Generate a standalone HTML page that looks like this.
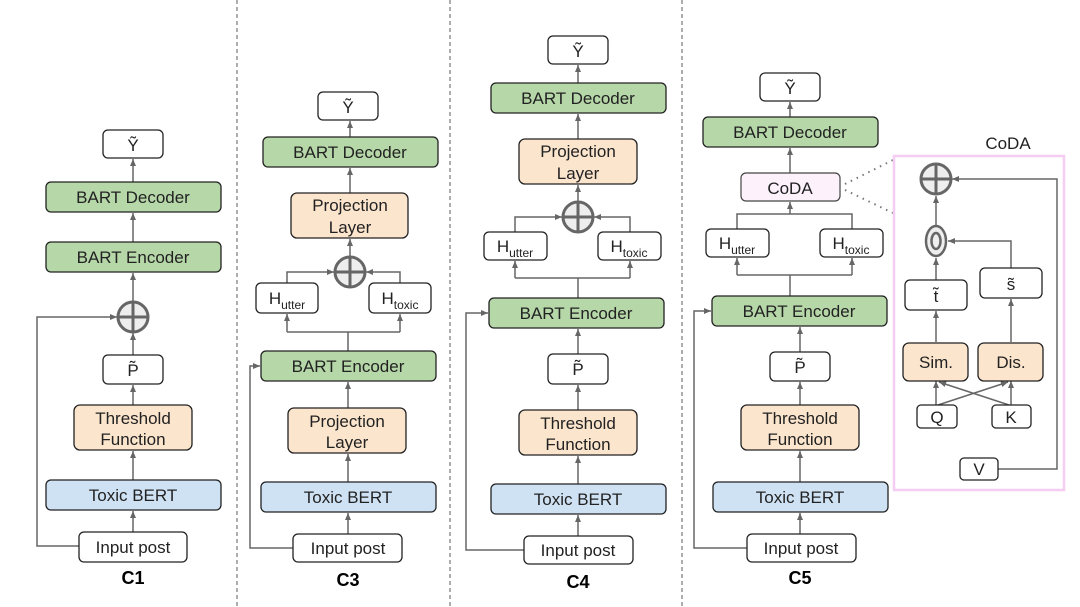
<!DOCTYPE html>
<html><head><meta charset="utf-8"><style>
html,body{margin:0;padding:0;background:#fff;}
svg{display:block;font-family:"Liberation Sans",Arial,sans-serif;}
.b{stroke:#222;stroke-width:1.3;}
.l{stroke:#666;stroke-width:1.5;fill:none;}
text{fill:#222;font-size:17px;text-anchor:middle;}
.s{font-size:12px;}
.c{font-weight:bold;font-size:18px;fill:#000;}
</style></head><body>
<svg width="1080" height="607" viewBox="0 0 1080 607" xmlns="http://www.w3.org/2000/svg">
<defs>
<marker id="a" markerWidth="8" markerHeight="8" refX="7" refY="4" orient="auto" markerUnits="userSpaceOnUse"><path d="M0,1 L7,4 L0,7 z" fill="#666"/></marker>
<g id="plus"><circle r="15" fill="#eee" stroke="#666" stroke-width="3"/><line x1="-15" y1="0" x2="15" y2="0" stroke="#666" stroke-width="3"/><line x1="0" y1="-15" x2="0" y2="15" stroke="#666" stroke-width="3"/></g>
</defs>
<!-- separators -->
<g stroke="#777" stroke-width="1.2" stroke-dasharray="4,3">
<line x1="237" y1="0" x2="237" y2="607"/><line x1="450" y1="0" x2="450" y2="607"/><line x1="682" y1="0" x2="682" y2="607"/>
</g>

<!-- C1 -->
<g>
<line class="l" x1="133" y1="532" x2="133" y2="511" marker-end="url(#a)"/>
<line class="l" x1="133" y1="480" x2="133" y2="451" marker-end="url(#a)"/>
<line class="l" x1="133" y1="405" x2="133" y2="385" marker-end="url(#a)"/>
<line class="l" x1="133" y1="355" x2="133" y2="333" marker-end="url(#a)"/>
<line class="l" x1="133" y1="302" x2="133" y2="273" marker-end="url(#a)"/>
<line class="l" x1="133" y1="242" x2="133" y2="213" marker-end="url(#a)"/>
<line class="l" x1="133" y1="182" x2="133" y2="159" marker-end="url(#a)"/>
<polyline class="l" points="79,546 37,546 37,317 117,317" marker-end="url(#a)"/>
<rect class="b" x="103" y="130" width="60" height="28" rx="5" fill="#fff"/><text x="133" y="151">Ỹ</text>
<rect class="b" x="46" y="182" width="175" height="30" rx="5" fill="#b6d7a8"/><text x="133" y="203">BART Decoder</text>
<rect class="b" x="46" y="242" width="175" height="30" rx="5" fill="#b6d7a8"/><text x="133" y="263">BART Encoder</text>
<use href="#plus" x="133" y="317"/>
<rect class="b" x="103" y="355" width="60" height="29" rx="5" fill="#fff"/><text x="133" y="376">P̃</text>
<rect class="b" x="74" y="405" width="118" height="45" rx="6" fill="#fce5cd"/><text x="133" y="424">Threshold</text><text x="133" y="445">Function</text>
<rect class="b" x="46" y="480" width="175" height="30" rx="5" fill="#cfe2f3"/><text x="133" y="501">Toxic BERT</text>
<rect class="b" x="79" y="532" width="108" height="30" rx="5" fill="#fff"/><text x="133" y="553">Input post</text>
<text class="c" x="133" y="584">C1</text>
</g>

<!-- C3 -->
<g>
<line class="l" x1="348" y1="534" x2="348" y2="513" marker-end="url(#a)"/>
<line class="l" x1="348" y1="482" x2="348" y2="454" marker-end="url(#a)"/>
<line class="l" x1="348" y1="408" x2="348" y2="382" marker-end="url(#a)"/>
<polyline class="l" points="293,548 250,548 250,366 260,366" marker-end="url(#a)"/>
<line class="l" x1="348" y1="351" x2="348" y2="332"/>
<polyline class="l" points="287,332 400,332"/>
<line class="l" x1="287" y1="332" x2="287" y2="314" marker-end="url(#a)"/>
<line class="l" x1="400" y1="332" x2="400" y2="314" marker-end="url(#a)"/>
<polyline class="l" points="287,283 287,272 334,272" marker-end="url(#a)"/>
<polyline class="l" points="400,283 400,272 366,272" marker-end="url(#a)"/>
<line class="l" x1="350" y1="257" x2="350" y2="239" marker-end="url(#a)"/>
<line class="l" x1="350" y1="193" x2="350" y2="168" marker-end="url(#a)"/>
<line class="l" x1="350" y1="137" x2="350" y2="121" marker-end="url(#a)"/>
<rect class="b" x="318" y="92" width="60" height="28" rx="5" fill="#fff"/><text x="348" y="113">Ỹ</text>
<rect class="b" x="263" y="137" width="175" height="30" rx="5" fill="#b6d7a8"/><text x="350" y="158">BART Decoder</text>
<rect class="b" x="291" y="193" width="117" height="45" rx="6" fill="#fce5cd"/><text x="350" y="211">Projection</text><text x="350" y="233">Layer</text>
<use href="#plus" x="350" y="272"/>
<rect class="b" x="256" y="283" width="62" height="30" rx="5" fill="#fff"/><text x="287" y="304">H<tspan class="s" dy="5">utter</tspan></text>
<rect class="b" x="369" y="283" width="62" height="30" rx="5" fill="#fff"/><text x="400" y="304">H<tspan class="s" dy="5">toxic</tspan></text>
<rect class="b" x="261" y="351" width="175" height="30" rx="5" fill="#b6d7a8"/><text x="348" y="372">BART Encoder</text>
<rect class="b" x="288" y="408" width="118" height="45" rx="6" fill="#fce5cd"/><text x="347" y="427">Projection</text><text x="347" y="448">Layer</text>
<rect class="b" x="261" y="482" width="175" height="30" rx="5" fill="#cfe2f3"/><text x="348" y="503">Toxic BERT</text>
<rect class="b" x="293" y="534" width="109" height="28" rx="5" fill="#fff"/><text x="348" y="554">Input post</text>
<text class="c" x="348" y="586">C3</text>
</g>

<!-- C4 -->
<g>
<line class="l" x1="578" y1="536" x2="578" y2="515" marker-end="url(#a)"/>
<line class="l" x1="578" y1="484" x2="578" y2="456" marker-end="url(#a)"/>
<line class="l" x1="578" y1="410" x2="578" y2="385" marker-end="url(#a)"/>
<line class="l" x1="578" y1="354" x2="578" y2="329" marker-end="url(#a)"/>
<polyline class="l" points="524,550 466,550 466,313 488,313" marker-end="url(#a)"/>
<line class="l" x1="578" y1="298" x2="578" y2="278"/>
<polyline class="l" points="515,278 630,278"/>
<line class="l" x1="515" y1="278" x2="515" y2="261" marker-end="url(#a)"/>
<line class="l" x1="630" y1="278" x2="630" y2="261" marker-end="url(#a)"/>
<polyline class="l" points="515,232 515,217 562,217" marker-end="url(#a)"/>
<polyline class="l" points="630,232 630,217 594,217" marker-end="url(#a)"/>
<line class="l" x1="578" y1="202" x2="578" y2="185" marker-end="url(#a)"/>
<line class="l" x1="578" y1="139" x2="578" y2="114" marker-end="url(#a)"/>
<line class="l" x1="578" y1="83" x2="578" y2="65" marker-end="url(#a)"/>
<rect class="b" x="548" y="36" width="60" height="28" rx="5" fill="#fff"/><text x="578" y="57">Ỹ</text>
<rect class="b" x="491" y="83" width="175" height="30" rx="5" fill="#b6d7a8"/><text x="578" y="104">BART Decoder</text>
<rect class="b" x="519" y="139" width="118" height="45" rx="6" fill="#fce5cd"/><text x="578" y="157">Projection</text><text x="578" y="179">Layer</text>
<use href="#plus" x="578" y="217"/>
<rect class="b" x="484" y="232" width="63" height="28" rx="5" fill="#fff"/><text x="515" y="252">H<tspan class="s" dy="5">utter</tspan></text>
<rect class="b" x="598" y="232" width="63" height="28" rx="5" fill="#fff"/><text x="629" y="252">H<tspan class="s" dy="5">toxic</tspan></text>
<rect class="b" x="489" y="298" width="175" height="30" rx="5" fill="#b6d7a8"/><text x="576" y="319">BART Encoder</text>
<rect class="b" x="548" y="354" width="60" height="30" rx="5" fill="#fff"/><text x="578" y="375">P̃</text>
<rect class="b" x="519" y="410" width="118" height="45" rx="6" fill="#fce5cd"/><text x="578" y="429">Threshold</text><text x="578" y="450">Function</text>
<rect class="b" x="491" y="484" width="175" height="30" rx="5" fill="#cfe2f3"/><text x="578" y="505">Toxic BERT</text>
<rect class="b" x="524" y="536" width="109" height="28" rx="5" fill="#fff"/><text x="578" y="556">Input post</text>
<text class="c" x="578" y="588">C4</text>
</g>

<!-- C5 -->
<g>
<line class="l" x1="800" y1="534" x2="800" y2="513" marker-end="url(#a)"/>
<line class="l" x1="800" y1="482" x2="800" y2="451" marker-end="url(#a)"/>
<line class="l" x1="800" y1="405" x2="800" y2="382" marker-end="url(#a)"/>
<line class="l" x1="800" y1="352" x2="800" y2="327" marker-end="url(#a)"/>
<polyline class="l" points="747,548 694,548 694,311 711,311" marker-end="url(#a)"/>
<line class="l" x1="790" y1="296" x2="790" y2="275"/>
<polyline class="l" points="737,275 852,275"/>
<line class="l" x1="737" y1="275" x2="737" y2="258" marker-end="url(#a)"/>
<line class="l" x1="852" y1="275" x2="852" y2="258" marker-end="url(#a)"/>
<polyline class="l" points="737,229 737,214 852,214 852,229"/>
<line class="l" x1="790" y1="214" x2="790" y2="202" marker-end="url(#a)"/>
<line class="l" x1="790" y1="173" x2="790" y2="148" marker-end="url(#a)"/>
<line class="l" x1="790" y1="117" x2="790" y2="102" marker-end="url(#a)"/>
<rect class="b" x="760" y="73" width="60" height="28" rx="5" fill="#fff"/><text x="790" y="94">Ỹ</text>
<rect class="b" x="703" y="117" width="175" height="30" rx="5" fill="#b6d7a8"/><text x="790" y="138">BART Decoder</text>
<rect x="741" y="173" width="99" height="28" rx="5" fill="#fdf2fc" stroke="#444" stroke-width="1.2"/><text x="790" y="194">CoDA</text>
<rect class="b" x="706" y="229" width="63" height="28" rx="5" fill="#fff"/><text x="737" y="249">H<tspan class="s" dy="5">utter</tspan></text>
<rect class="b" x="820" y="229" width="63" height="28" rx="5" fill="#fff"/><text x="851" y="249">H<tspan class="s" dy="5">toxic</tspan></text>
<rect class="b" x="712" y="296" width="175" height="30" rx="5" fill="#b6d7a8"/><text x="799" y="317">BART Encoder</text>
<rect class="b" x="770" y="352" width="60" height="29" rx="5" fill="#fff"/><text x="800" y="373">P̃</text>
<rect class="b" x="741" y="405" width="118" height="45" rx="6" fill="#fce5cd"/><text x="800" y="424">Threshold</text><text x="800" y="445">Function</text>
<rect class="b" x="713" y="482" width="175" height="30" rx="5" fill="#cfe2f3"/><text x="800" y="503">Toxic BERT</text>
<rect class="b" x="747" y="534" width="109" height="28" rx="5" fill="#fff"/><text x="801" y="554">Input post</text>
<text class="c" x="800" y="584">C5</text>
<line x1="845" y1="184" x2="893" y2="160" stroke="#777" stroke-width="2" stroke-dasharray="1.5,5"/>
<line x1="845" y1="190" x2="893" y2="213" stroke="#777" stroke-width="2" stroke-dasharray="1.5,5"/>
</g>

<!-- CoDA detail -->
<g>
<text x="1008" y="149">CoDA</text>
<rect x="894" y="156" width="170" height="334" fill="none" stroke="#f5ccf2" stroke-width="2.5"/>
<polyline class="l" points="998,469 1057,469 1057,179 952,179" marker-end="url(#a)"/>
<line class="l" x1="936" y1="225" x2="936" y2="196" marker-end="url(#a)"/>
<line class="l" x1="936" y1="280" x2="936" y2="258" marker-end="url(#a)"/>
<polyline class="l" points="1011,268 1011,241 948,241" marker-end="url(#a)"/>
<line class="l" x1="936" y1="342" x2="936" y2="311" marker-end="url(#a)"/>
<line class="l" x1="1011" y1="342" x2="1011" y2="299" marker-end="url(#a)"/>
<line class="l" x1="936" y1="405" x2="936" y2="381" marker-end="url(#a)"/>
<line class="l" x1="1011" y1="405" x2="1011" y2="381" marker-end="url(#a)"/>
<line class="l" x1="938" y1="405" x2="1008" y2="382" marker-end="url(#a)"/>
<line class="l" x1="1009" y1="405" x2="939" y2="382" marker-end="url(#a)"/>
<use href="#plus" x="936" y="179"/>
<ellipse cx="936" cy="241" rx="10" ry="15" fill="#eee" stroke="#666" stroke-width="2.5"/>
<ellipse cx="936" cy="241" rx="4.5" ry="8" fill="#eee" stroke="#666" stroke-width="2.5"/>
<rect class="b" x="905" y="280" width="62" height="30" rx="5" fill="#fff"/><text x="936" y="302">t̃</text>
<rect class="b" x="980" y="268" width="62" height="30" rx="5" fill="#fff"/><text x="1011" y="290">s̃</text>
<rect class="b" x="903" y="343" width="65" height="38" rx="6" fill="#fce5cd"/><text x="936" y="368">Sim.</text>
<rect class="b" x="978" y="343" width="65" height="38" rx="6" fill="#fce5cd"/><text x="1011" y="368">Dis.</text>
<rect class="b" x="917" y="405" width="40" height="23" rx="4" fill="#fff"/><text x="937" y="423">Q</text>
<rect class="b" x="992" y="405" width="39" height="23" rx="4" fill="#fff"/><text x="1011" y="423">K</text>
<rect class="b" x="960" y="458" width="38" height="22" rx="4" fill="#fff"/><text x="979" y="475">V</text>
</g>
</svg>
</body></html>
